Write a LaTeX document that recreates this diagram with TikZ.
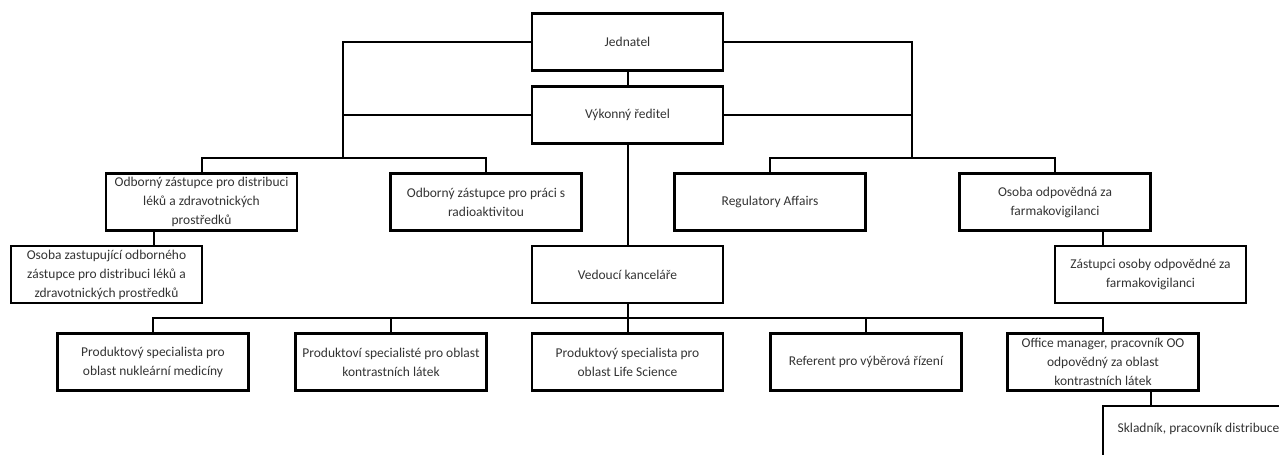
\documentclass[tikz,border=0pt]{standalone}
\usepackage{fontspec}
\setmainfont{Carlito}
\usetikzlibrary{calc}

\begin{document}
\begin{tikzpicture}[x=0.75pt,y=-0.75pt,line width=1.5pt,
  box/.style={draw,line width=1.8pt,minimum width=143.25pt,minimum height=42.75pt,inner sep=0pt,
    align=center,text=black!80,font=\fontsize{10.1pt}{14.25pt}\selectfont}]
            \useasboundingbox (0,0) rectangle (1279,454);
            \clip (0,0) rectangle (1279,454);
            \node[box] (jed) at (627.5,42) {Jednatel};
            \node[box] (vyk) at (627.5,115) {Výkonný ředitel};
            \node[box] (dist) at (201.5,202) {Odborný zástupce pro distribuci\\léků a zdravotnických\\prostředků};
            \node[box] (radio) at (486,202) {Odborný zástupce pro práci s\\radioaktivitou};
            \node[box] (reg) at (770,202) {Regulatory Affairs};
            \node[box] (farm) at (1055,202) {Osoba odpovědná za\\farmakovigilanci};
            \node[box] (zast) at (106.5,274.5) {Osoba zastupující odborného\\zástupce pro distribuci léků a\\zdravotnických prostředků};
            \node[box] (ved) at (627.5,274.5) {Vedoucí kanceláře};
            \node[box] (zfarm) at (1150.5,274.5) {Zástupci osoby odpovědné za\\farmakovigilanci};
            \node[box] (p1) at (153,362) {Produktový specialista pro\\oblast nukleární medicíny};
            \node[box] (p2) at (391,362) {Produktoví specialisté pro oblast\\kontrastních látek};
            \node[box] (p3) at (627.5,362) {Produktový specialista pro\\oblast Life Science};
            \node[box] (ref) at (866,362) {Referent pro výběrová řízení};
            \node[box] (office) at (1103,362) {Office manager, pracovník OO\\odpovědný za oblast\\kontrastních látek};
            \node[box,text depth=10pt] (sklad) at (1198.5,434.5) {Skladník, pracovník distribuce};
            \coordinate (lbus) at (343,158);
            \coordinate (rbus) at (912,158);
            \coordinate (bbus) at (627.5,318);
            \draw (jed.south) -- (vyk.north);
            \draw (vyk.south) -- (ved.north);
            \draw (jed.west) -| (lbus);
            \draw (vyk.west) -- (vyk.west -| lbus);
            \draw (dist.north) |- (lbus) -| (radio.north);
            \draw (jed.east) -| (rbus);
            \draw (vyk.east) -- (vyk.east -| rbus);
            \draw (reg.north) |- (rbus) -| (farm.north);
            \draw (ved.south) -- (bbus);
            \draw (p1.north) |- (bbus) -| (office.north);
            \foreach \n in {p2,p3,ref} \draw (\n.north) -- (\n.north |- bbus);
            \foreach \a/\b in {dist/zast,farm/zfarm,office/sklad}{
              \coordinate (m) at ($(\a.south)!.5!(\b.north)$);
              \draw (m |- \a.south) -- (m |- \b.north);
            }
        \end{tikzpicture}
\end{document}
